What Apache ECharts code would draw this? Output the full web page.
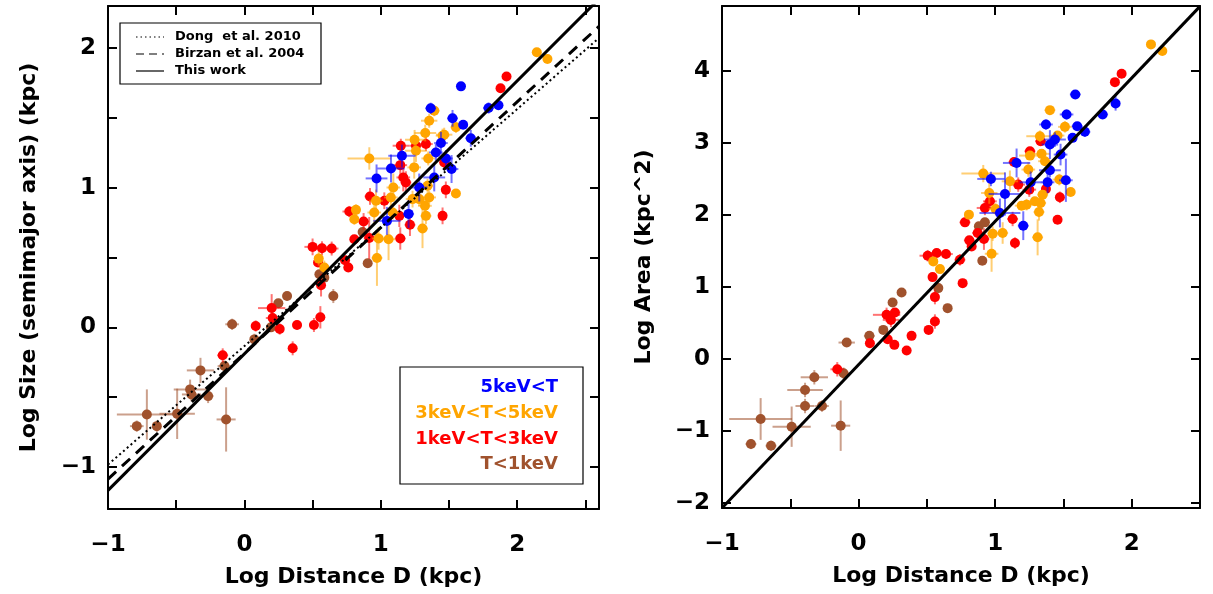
<!DOCTYPE html>
<html><head><meta charset="utf-8">
<script src="https://cdn.jsdelivr.net/npm/echarts@6/dist/echarts.min.js"></script>
<style>html,body{margin:0;padding:0;background:#fff}#c{width:1213px;height:594px}</style>
</head><body><div id="c"></div>
<script>
// ---------- DATA ----------
// Each point: [logD, value, xErr, yErr]
// Left panel: Log Size (semimajor axis)
const sizeBrown = [
[-0.789,-0.707,0.05,0.04],[-0.715,-0.624,0.22,0.18],[-0.642,-0.707,0.03,0.04],[-0.493,-0.619,0.13,0.18],
[-0.398,-0.444,0.12,0.07],[-0.388,-0.48,0.07,0.05],[-0.322,-0.308,0.10,0.09],[-0.266,-0.492,0.04,0.05],
[-0.134,-0.659,0.07,0.23],[-0.146,-0.277,0.05,0.04],[-0.09,0.022,0.05,0.04],[0.073,-0.086,0.03,0.04],
[0.195,0.0,0.03,0.03],[0.249,0.172,0.03,0.03],[0.313,0.224,0.03,0.03],[0.55,0.38,0.03,0.03],
[0.586,0.356,0.03,0.03],[0.652,0.224,0.03,0.05],[0.904,0.459,0.03,0.03],[0.867,0.683,0.03,0.03]
];
const sizeRed = [
[-0.159,-0.2,0.04,0.05],[0.083,0.01,0.03,0.04],[0.2,0.138,0.1,0.1],[0.207,0.067,0.05,0.05],
[0.259,-0.012,0.03,0.04],[0.354,-0.15,0.03,0.05],[0.386,0.017,0.03,0.03],[0.51,0.017,0.03,0.05],
[0.557,0.072,0.03,0.08],[0.562,0.301,0.03,0.08],[0.54,0.464,0.03,0.03],[0.5,0.576,0.06,0.06],
[0.569,0.566,0.05,0.05],[0.64,0.564,0.05,0.05],[0.738,0.48,0.03,0.03],[0.762,0.428,0.03,0.03],
[0.769,0.829,0.05,0.04],[0.874,0.758,0.04,0.06],[0.806,0.631,0.03,0.03],[0.915,0.64,0.04,0.15],
[0.921,0.937,0.04,0.06],[1.026,0.906,0.06,0.06],[1.147,1.3,0.06,0.05],[1.143,1.161,0.05,0.1],
[1.258,1.3,0.05,0.05],[1.331,1.312,0.05,0.05],[1.165,1.073,0.05,0.1],[1.184,1.037,0.04,0.08],
[1.136,0.798,0.04,0.08],[1.214,0.734,0.04,0.08],[1.143,0.636,0.04,0.08],[1.465,1.18,0.03,0.05],
[1.477,0.984,0.03,0.06],[1.453,0.798,0.03,0.06],[1.878,1.711,0.03,0.03],[1.922,1.795,0.03,0.03]
];
const sizeOrange = [
[2.144,1.969,0.02,0.02],[2.222,1.921,0.02,0.02],[1.551,0.958,0.03,0.03],[1.355,1.479,0.06,0.05],
[1.392,1.551,0.04,0.04],[1.551,1.432,0.04,0.04],[0.916,1.209,0.16,0.08],[1.326,1.391,0.08,0.06],
[1.248,1.343,0.07,0.07],[1.465,1.379,0.06,0.05],[1.258,1.264,0.08,0.08],[1.348,1.209,0.05,0.05],
[1.245,1.145,0.05,0.08],[1.092,1.001,0.05,0.1],[1.074,0.93,0.05,0.1],[1.355,0.93,0.05,0.05],
[1.324,0.87,0.05,0.05],[1.331,0.798,0.04,0.06],[1.233,0.918,0.05,0.06],[1.282,0.918,0.04,0.05],
[0.965,0.906,0.05,0.08],[0.952,0.822,0.05,0.08],[0.818,0.841,0.03,0.04],[0.806,0.774,0.03,0.04],
[1.057,0.631,0.05,0.15],[0.984,0.636,0.05,0.08],[0.972,0.497,0.04,0.2],[1.306,0.707,0.04,0.14],
[1.087,0.822,0.05,0.05],[0.545,0.492,0.03,0.05],[0.586,0.428,0.03,0.05],[1.343,1.013,0.04,0.05],
[1.453,1.372,0.05,0.05]
];
const sizeBlue = [
[0.969,1.066,0.08,0.1],[1.075,1.137,0.1,0.1],[1.155,1.228,0.1,0.08],[1.045,0.762,0.1,0.1],
[1.204,0.812,0.04,0.1],[1.282,1.001,0.06,0.1],[1.392,1.073,0.08,0.1],[1.404,1.252,0.05,0.06],
[1.441,1.319,0.05,0.08],[1.478,1.209,0.05,0.06],[1.519,1.133,0.05,0.1],[1.366,1.568,0.04,0.04],
[1.526,1.496,0.04,0.06],[1.604,1.45,0.03,0.03],[1.66,1.353,0.04,0.06],[1.588,1.725,0.03,0.02],
[1.79,1.57,0.04,0.04],[1.863,1.59,0.03,0.03]
];
// Right panel: Log Area
const areaBrown = [
[-0.788,-1.182,0.04,0.07],[-0.717,-0.834,0.23,0.29],[-0.641,-1.205,0.04,0.07],[-0.49,-0.941,0.14,0.28],
[-0.392,-0.431,0.13,0.1],[-0.392,-0.654,0.07,0.1],[-0.324,-0.255,0.1,0.1],[-0.268,-0.654,0.05,0.08],
[-0.131,-0.927,0.07,0.35],[-0.11,-0.2,0.04,0.08],[-0.087,0.227,0.06,0.06],[0.079,0.32,0.04,0.05],
[0.181,0.403,0.03,0.05],[0.249,0.784,0.03,0.03],[0.315,0.923,0.03,0.03],[0.584,0.983,0.03,0.03],
[0.652,0.705,0.03,0.06],[0.906,1.363,0.03,0.03],[0.881,1.841,0.03,0.03],[0.925,1.896,0.03,0.03]
];
const areaRed = [
[-0.156,-0.144,0.05,0.1],[0.083,0.218,0.03,0.05],[0.205,0.612,0.1,0.1],[0.237,0.542,0.06,0.1],
[0.266,0.644,0.04,0.06],[0.213,0.274,0.03,0.05],[0.262,0.195,0.03,0.05],[0.352,0.116,0.03,0.05],
[0.388,0.32,0.03,0.03],[0.513,0.403,0.03,0.04],[0.559,0.519,0.03,0.1],[0.559,0.858,0.03,0.1],
[0.542,1.136,0.03,0.05],[0.506,1.433,0.06,0.08],[0.572,1.47,0.05,0.06],[0.64,1.456,0.05,0.06],
[0.762,1.052,0.03,0.06],[0.742,1.377,0.04,0.08],[0.779,1.896,0.04,0.06],[0.811,1.646,0.04,0.06],
[0.828,1.562,0.03,0.06],[0.872,1.748,0.04,0.06],[0.918,1.664,0.04,0.15],[0.925,2.096,0.06,0.1],
[0.962,2.188,0.05,0.1],[1.128,1.943,0.04,0.1],[1.145,1.609,0.03,0.08],[1.169,2.42,0.05,0.1],
[1.25,2.35,0.05,0.1],[1.255,2.884,0.04,0.05],[1.333,3.023,0.04,0.05],[1.372,2.36,0.03,0.08],
[1.474,2.244,0.03,0.08],[1.457,1.933,0.03,0.06],[1.138,2.735,0.04,0.05],[1.877,3.843,0.03,0.03],
[1.926,3.959,0.03,0.03]
];
const areaOrange = [
[2.141,4.367,0.02,0.02],[2.224,4.275,0.02,0.02],[1.401,3.454,0.04,0.04],[1.511,3.222,0.05,0.08],
[1.457,3.101,0.05,0.05],[1.328,3.092,0.1,0.08],[0.913,2.573,0.16,0.12],[0.957,2.304,0.06,0.15],
[1.108,2.466,0.06,0.15],[1.255,2.823,0.08,0.06],[1.243,2.629,0.05,0.1],[1.34,2.847,0.06,0.06],
[1.365,2.745,0.05,0.06],[1.47,2.49,0.05,0.08],[1.553,2.318,0.03,0.04],[1.348,2.281,0.04,0.06],
[1.333,2.165,0.04,0.08],[1.291,2.188,0.05,0.06],[1.321,2.04,0.04,0.12],[1.23,2.142,0.05,0.08],
[1.194,2.128,0.05,0.06],[1.003,2.082,0.05,0.08],[0.808,2.003,0.03,0.05],[0.982,1.739,0.04,0.1],
[1.055,1.748,0.04,0.15],[0.974,1.46,0.05,0.25],[1.311,1.688,0.04,0.25],[0.547,1.354,0.03,0.04],
[0.596,1.247,0.03,0.04]
];
const areaBlue = [
[1.587,3.672,0.04,0.04],[1.372,3.255,0.05,0.07],[1.523,3.394,0.05,0.07],[1.601,3.231,0.04,0.05],
[1.657,3.153,0.04,0.07],[1.567,3.069,0.03,0.04],[1.787,3.394,0.04,0.06],[1.882,3.547,0.03,0.1],
[1.438,3.046,0.08,0.1],[1.401,2.976,0.06,0.2],[1.401,2.619,0.08,0.1],[1.479,2.837,0.05,0.15],
[1.518,2.48,0.05,0.3],[1.384,2.452,0.05,0.15],[1.26,2.452,0.08,0.15],[1.157,2.721,0.1,0.2],
[0.969,2.499,0.1,0.1],[1.072,2.29,0.12,0.3],[1.035,2.026,0.15,0.2],[1.206,1.85,0.04,0.2]
];
// Relations: [slope, intercept]
const fitDong = [0.848, -0.134];
const fitBirzan = [0.90, -0.186];
const fitThisWork = [0.977, -0.19];
const fitArea = [1.99, -0.08];
// Legend texts
const lineLegend = ['Dong  et al. 2010', 'Birzan et al. 2004', 'This work'];
const tempLegend = ['5keV<T', '3keV<T<5keV', '1keV<T<3keV', 'T<1keV'];
// Ticks
const xLabels = [-1, 0, 1, 2];
const xTicksL = [-1, -0.5, 0, 0.5, 1, 1.5, 2, 2.5];
const yLabelsL = [-1, 0, 1, 2];
const yTicksL = [-1, -0.5, 0, 0.5, 1, 1.5, 2];
const yLabelsR = [-2, -1, 0, 1, 2, 3, 4];
const yTicksR = [-2, -1, 0, 1, 2, 3, 4];

// ---------- STYLE ----------
const COL = {blue:'#0000ff', orange:'#ffa500', red:'#ff0000', brown:'#a0522d'};
const FONT = 'DejaVu Sans';
const X0 = {min:-1, max:2.6}, X1 = {min:-1, max:2.5};
const Y0 = {min:-1.3, max:2.3}, Y1 = {min:-2.07, max:4.9};

const fmt = v => (v < 0 ? '\u2212' + Math.abs(v) : String(v));

function axis(kind, gi, rng, pos, ticks, labels, name, nameGap) {
  const a = {
    type:'value', gridIndex:gi, min:rng.min, max:rng.max, position:pos,
    axisLine:{show:true, onZero:false, lineStyle:{color:'#000', width:2}},
    axisTick:{show:true, inside:true, length:9, customValues:ticks, lineStyle:{color:'#000', width:2}},
    splitLine:{show:false},
    axisLabel:{show:!!labels, customValues:labels || [], formatter:fmt, color:'#000',
      fontFamily:FONT, fontSize:23, fontWeight:'bold', margin: kind==='x' ? 25 : 12}
  };
  if (name) {
    a.name = name; a.nameLocation = 'middle'; a.nameGap = nameGap;
    a.nameTextStyle = {color:'#000', fontFamily:FONT, fontSize:22, fontWeight:'bold'};
  }
  return a;
}

function errSeries(data, color, xi, yi, z) {
  return {
    type:'custom', xAxisIndex:xi, yAxisIndex:yi, z:z, clip:true,
    data:data, encode:{x:0, y:1},
    renderItem:function(params, api) {
      const x = api.value(0), y = api.value(1), xe = api.value(2), ye = api.value(3);
      const c = api.coord([x, y]);
      const l = api.coord([x - xe, y]), r = api.coord([x + xe, y]);
      const b = api.coord([x, y - ye]), t = api.coord([x, y + ye]);
      return {type:'group', children:[
        {type:'line', shape:{x1:l[0], y1:c[1], x2:r[0], y2:c[1]}, style:{stroke:color, lineWidth:2, opacity:0.55}},
        {type:'line', shape:{x1:c[0], y1:b[1], x2:c[0], y2:t[1]}, style:{stroke:color, lineWidth:2, opacity:0.55}},
        {type:'circle', shape:{cx:c[0], cy:c[1], r:5}, style:{fill:color}}
      ]};
    }
  };
}

function fitLine(fit, rng, xi, yi, type, width, dash) {
  return {
    type:'line', xAxisIndex:xi, yAxisIndex:yi, symbol:'none', silent:true, z:10, clip:true,
    data:[[rng.min, fit[0]*rng.min + fit[1]], [rng.max, fit[0]*rng.max + fit[1]]],
    lineStyle:{color:'#000', width:width, type:dash || type}
  };
}

const chart = echarts.init(document.getElementById('c'), null, {renderer:'canvas'});
const option = {
  animation:false,
  backgroundColor:'#fff',
  grid:[
    {left:108, top:6, width:491, height:503},
    {left:722, top:6, width:478, height:502}
  ],
  xAxis:[
    axis('x', 0, X0, 'bottom', xTicksL, xLabels, 'Log Distance D (kpc)', 57),
    axis('x', 0, X0, 'top', xTicksL, null),
    axis('x', 1, X1, 'bottom', xTicksL, xLabels, 'Log Distance D (kpc)', 57),
    axis('x', 1, X1, 'top', xTicksL, null)
  ],
  yAxis:[
    axis('y', 0, Y0, 'left', yTicksL, yLabelsL, 'Log Size (semimajor axis) (kpc)', 68),
    axis('y', 0, Y0, 'right', yTicksL, null),
    axis('y', 1, Y1, 'left', yTicksR, yLabelsR, 'Log Area (kpc^2)', 67),
    axis('y', 1, Y1, 'right', yTicksR, null)
  ],
  series:[
    errSeries(sizeBrown, COL.brown, 0, 0, 2),
    errSeries(sizeRed, COL.red, 0, 0, 3),
    errSeries(sizeOrange, COL.orange, 0, 0, 4),
    errSeries(sizeBlue, COL.blue, 0, 0, 5),
    fitLine(fitDong, X0, 0, 0, 'dotted', 2, [2, 3]),
    fitLine(fitBirzan, X0, 0, 0, 'dashed', 3, [11, 8]),
    fitLine(fitThisWork, X0, 0, 0, 'solid', 3),
    errSeries(areaBrown, COL.brown, 2, 2, 2),
    errSeries(areaRed, COL.red, 2, 2, 3),
    errSeries(areaOrange, COL.orange, 2, 2, 4),
    errSeries(areaBlue, COL.blue, 2, 2, 5),
    fitLine(fitArea, X1, 2, 2, 'solid', 3)
  ],
  graphic:[
    {type:'rect', shape:{x:120, y:23, width:201, height:61}, style:{fill:'#fff', stroke:'#000', lineWidth:1.2}, z:20},
    {type:'line', shape:{x1:136, y1:37, x2:164, y2:37}, style:{stroke:'#000', lineWidth:1.2, lineDash:[1.5,3]}, z:21},
    {type:'line', shape:{x1:136, y1:54, x2:164, y2:54}, style:{stroke:'#000', lineWidth:1.2, lineDash:[8,5]}, z:21},
    {type:'line', shape:{x1:136, y1:71, x2:164, y2:71}, style:{stroke:'#000', lineWidth:1.2}, z:21},
    {type:'text', x:175, y:37, style:{text:lineLegend[0], font:'bold 13px "DejaVu Sans"', fill:'#000', verticalAlign:'middle'}, z:21},
    {type:'text', x:175, y:54, style:{text:lineLegend[1], font:'bold 13px "DejaVu Sans"', fill:'#000', verticalAlign:'middle'}, z:21},
    {type:'text', x:175, y:71, style:{text:lineLegend[2], font:'bold 13px "DejaVu Sans"', fill:'#000', verticalAlign:'middle'}, z:21},
    {type:'rect', shape:{x:400, y:367, width:183, height:117}, style:{fill:'#fff', stroke:'#000', lineWidth:1.2}, z:20},
    {type:'text', x:558, y:387, style:{text:tempLegend[0], font:'bold 18px "DejaVu Sans"', fill:COL.blue, align:'right', verticalAlign:'middle'}, z:21},
    {type:'text', x:558, y:413, style:{text:tempLegend[1], font:'bold 18px "DejaVu Sans"', fill:COL.orange, align:'right', verticalAlign:'middle'}, z:21},
    {type:'text', x:558, y:439, style:{text:tempLegend[2], font:'bold 18px "DejaVu Sans"', fill:COL.red, align:'right', verticalAlign:'middle'}, z:21},
    {type:'text', x:558, y:464, style:{text:tempLegend[3], font:'bold 18px "DejaVu Sans"', fill:COL.brown, align:'right', verticalAlign:'middle'}, z:21}
  ]
};
chart.setOption(option);
</script>
</body></html>
